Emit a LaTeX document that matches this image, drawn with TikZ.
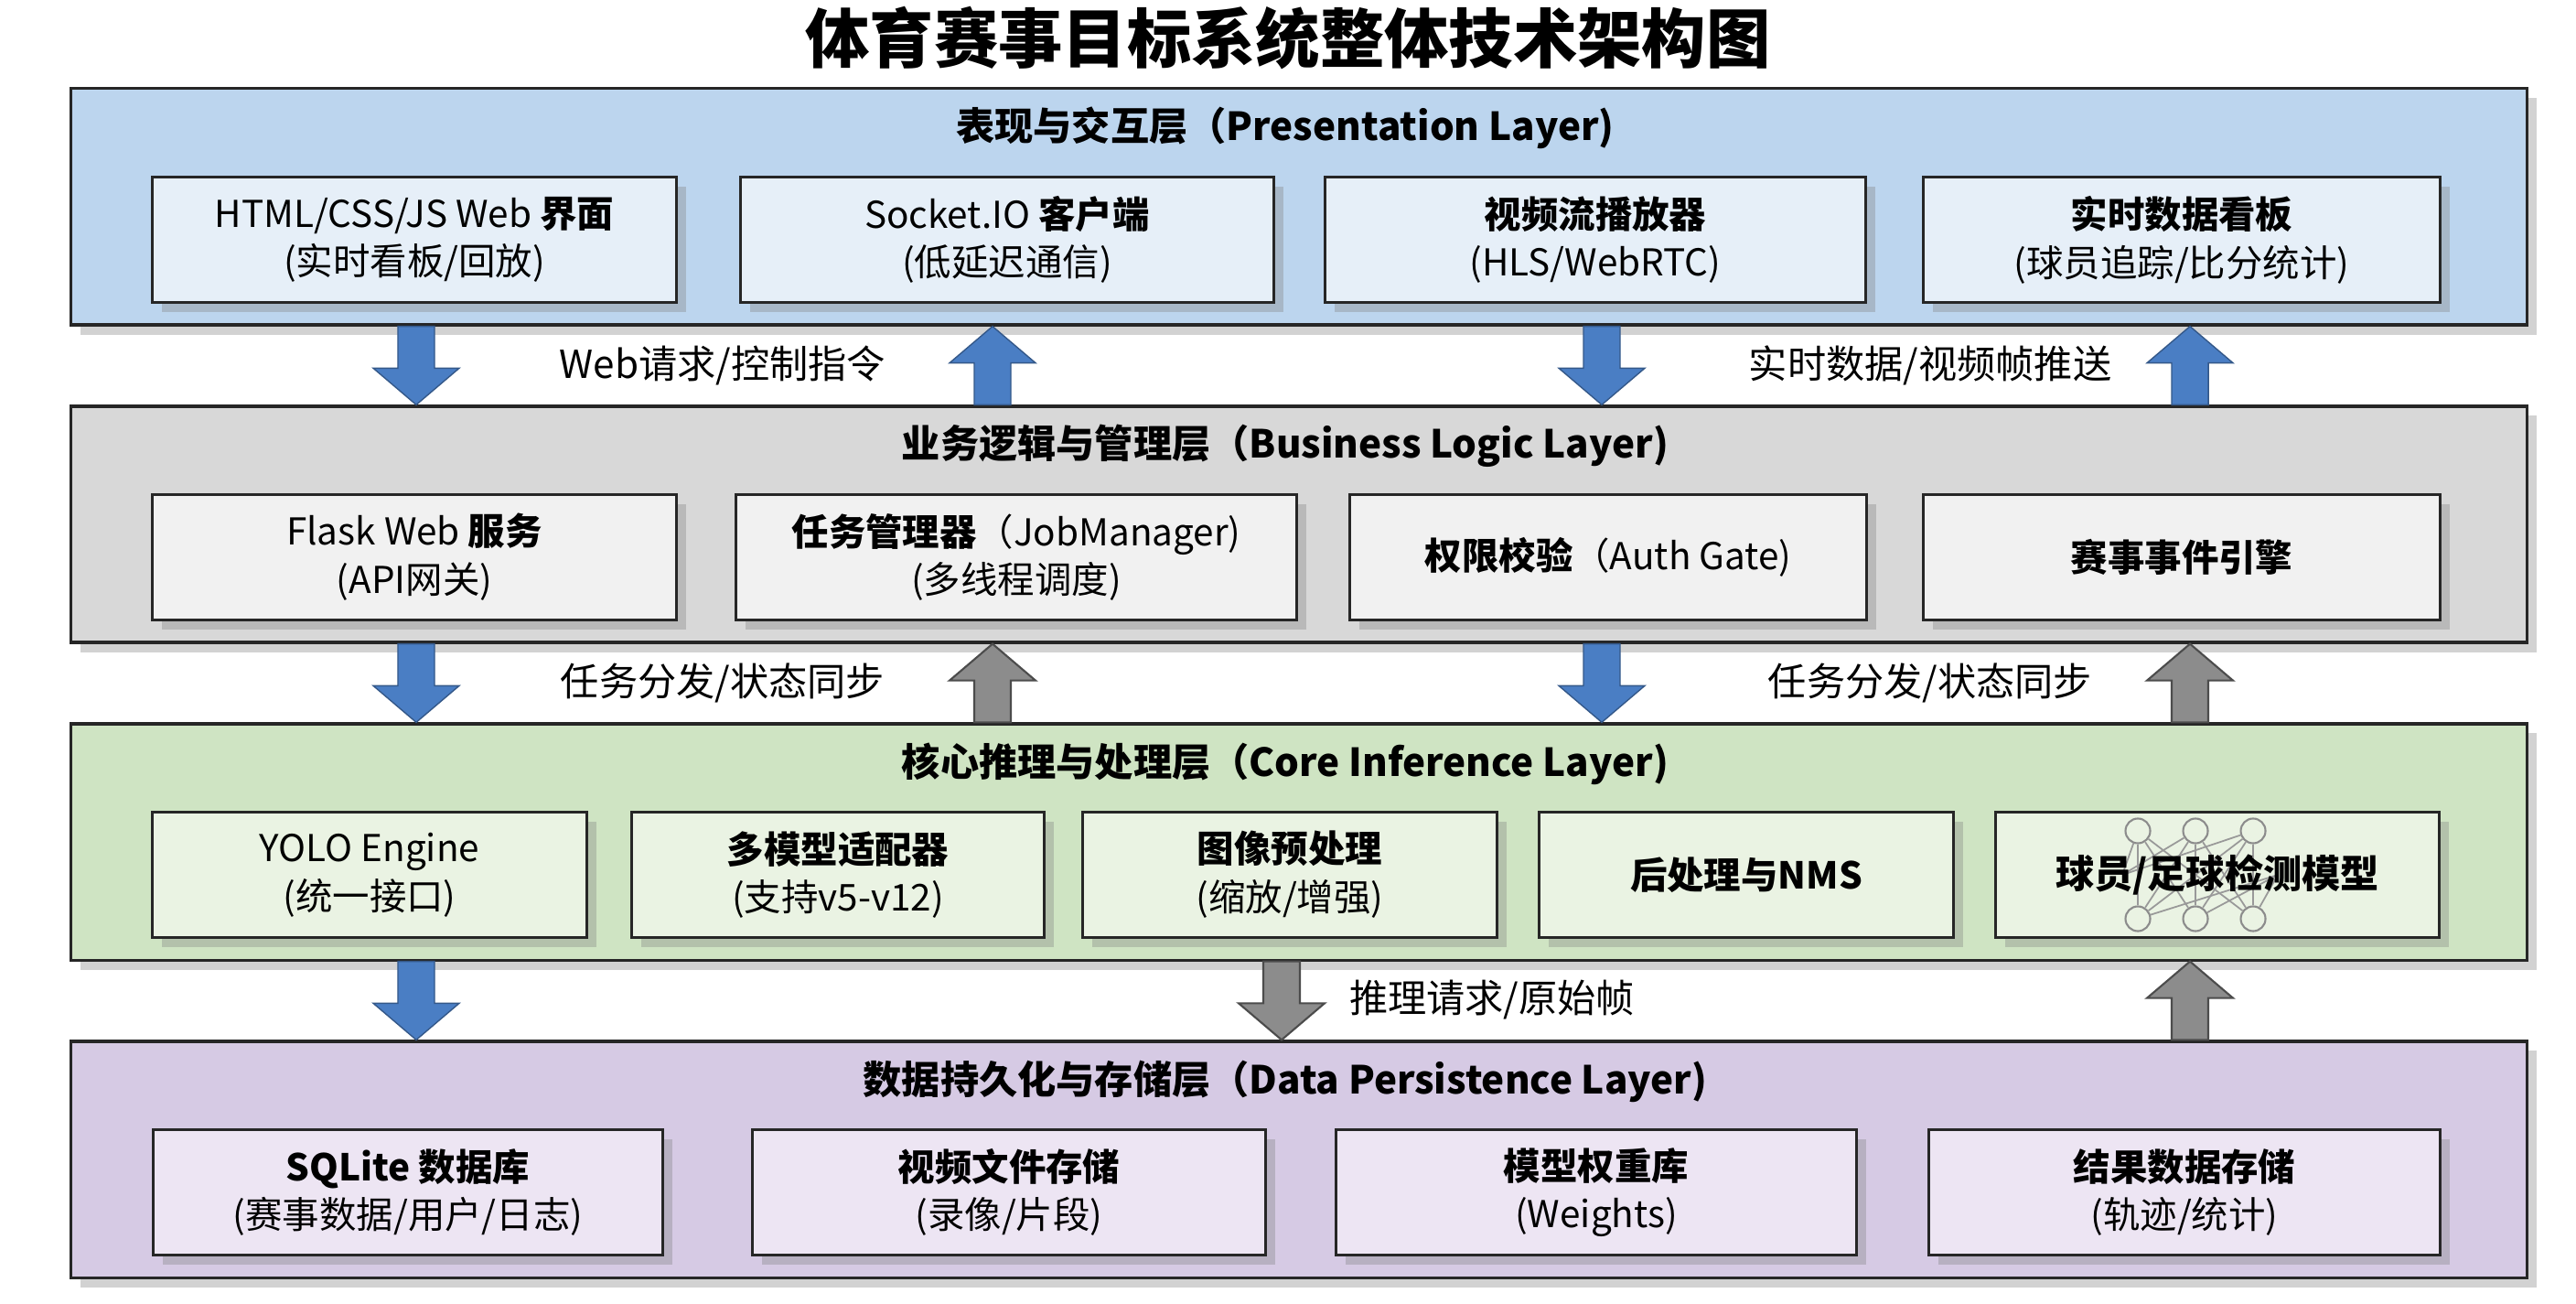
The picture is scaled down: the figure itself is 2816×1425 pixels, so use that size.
\documentclass[tikz,border=0pt]{standalone}
\usepackage{fontspec}
\setmainfont{Noto Sans CJK SC}
\usetikzlibrary{shadows,calc}

\definecolor{layblue}{HTML}{BCD5EE}
\definecolor{boxblue}{HTML}{E6EFF8}
\definecolor{laygray}{HTML}{D8D8D8}
\definecolor{boxgray}{HTML}{F1F1F1}
\definecolor{laygreen}{HTML}{CFE4C3}
\definecolor{boxgreen}{HTML}{EAF3E3}
\definecolor{laypurple}{HTML}{D6CAE4}
\definecolor{boxpurple}{HTML}{EDE5F3}
\definecolor{arrblue}{HTML}{4A7EC4}
\definecolor{arrgray}{HTML}{8C8C8C}

\tikzset{
  layer/.style={draw=black!85, line width=0.9pt, minimum width=26.83cm, minimum height=2.58cm,
    drop shadow={shadow xshift=3pt, shadow yshift=-3pt, opacity=.35}},
  laytitle/.style={font=\fontsize{12pt}{14pt}\selectfont\bfseries},
  box/.style={draw=black!85, line width=0.9pt, minimum width=#1, minimum height=1.37cm,
    align=center, font=\fontsize{11.5pt}{15pt}\selectfont,
    drop shadow={shadow xshift=3pt, shadow yshift=-3pt, opacity=.35}},
  flowlbl/.style={font=\fontsize{12pt}{14pt}\selectfont},
  blueflow/.style={fill=arrblue, draw=arrblue!70!black, line width=0.4pt},
  grayflow/.style={fill=arrgray, draw=black!70, line width=0.6pt},
  netdot/.style={draw=black!45, line width=0.6pt, circle, minimum size=0.27cm, inner sep=0pt}
}

% block arrows between layers
\newcommand\downflow[3]{\path[#1] let \p1=(#2), \p2=(#3) in
  (\x1-0.2cm,\y1) -- (\x1-0.2cm,\y2+0.4cm) -- (\x1-0.47cm,\y2+0.4cm) -- (\x1,\y2)
  -- (\x1+0.47cm,\y2+0.4cm) -- (\x1+0.2cm,\y2+0.4cm) -- (\x1+0.2cm,\y1) -- cycle;}
\newcommand\upflow[3]{\path[#1] let \p1=(#2), \p2=(#3) in
  (\x1-0.2cm,\y1) -- (\x1-0.2cm,\y2-0.4cm) -- (\x1-0.47cm,\y2-0.4cm) -- (\x1,\y2)
  -- (\x1+0.47cm,\y2-0.4cm) -- (\x1+0.2cm,\y2-0.4cm) -- (\x1+0.2cm,\y1) -- cycle;}

\begin{document}
\begin{tikzpicture}[x=0.01cm, y=-0.01cm]
    \useasboundingbox[fill=white] (0,0) rectangle (2816,1425);

    \node[font=\fontsize{20pt}{22pt}\selectfont\bfseries] (title) at (1408,42) {体育赛事目标系统整体技术架构图};

    % layers
    \node[layer, fill=layblue] (L1) at (1420,226) {};
    \node[layer, fill=laygray] (L2) at (1420,573) {};
    \node[layer, fill=laygreen] (L3) at (1420,920) {};
    \node[layer, fill=laypurple] (L4) at (1420,1267) {};

    \node[laytitle] (t1) at (1405,140) {表现与交互层（Presentation Layer)};
    \node[laytitle] (t2) at (1405,487) {业务逻辑与管理层（Business Logic Layer)};
    \node[laytitle] (t3) at (1405,835) {核心推理与处理层（Core Inference Layer)};
    \node[laytitle] (t4) at (1405,1182) {数据持久化与存储层（Data Persistence Layer)};

    % presentation
    \node[box=5.73cm, fill=boxblue] (p1) at (453,262) {HTML/CSS/JS Web \textbf{界面}\\(实时看板/回放)};
    \node[box=5.82cm, fill=boxblue] (p2) at (1101,262) {Socket.IO \textbf{客户端}\\(低延迟通信)};
    \node[box=5.91cm, fill=boxblue] (p3) at (1744,262) {\textbf{视频流播放器}\\(HLS/WebRTC)};
    \node[box=5.64cm, fill=boxblue] (p4) at (2385,262) {\textbf{实时数据看板}\\(球员追踪/比分统计)};

    % business
    \node[box=5.73cm, fill=boxgray] (b1) at (453,609) {Flask Web \textbf{服务}\\(API网关)};
    \node[box=6.12cm, fill=boxgray] (b2) at (1111,609) {\textbf{任务管理器}（JobManager)\\(多线程调度)};
    \node[box=5.64cm, fill=boxgray] (b3) at (1758,609) {\textbf{权限校验}（Auth Gate)};
    \node[box=5.64cm, fill=boxgray] (b4) at (2385,609) {\textbf{赛事事件引擎}};

    % core
    \node[box=4.74cm, fill=boxgreen] (c1) at (404,956) {YOLO Engine\\(统一接口)};
    \node[box=4.51cm, fill=boxgreen] (c2) at (916,956) {\textbf{多模型适配器}\\(支持v5-v12)};
    \node[box=4.52cm, fill=boxgreen] (c3) at (1410,956) {\textbf{图像预处理}\\(缩放/增强)};
    \node[box=4.52cm, fill=boxgreen] (c4) at (1909,956) {\textbf{后处理与NMS}};
    \node[box=4.85cm, fill=boxgreen] (c5) at (2424,956) {};

    % network icon behind the model label
    \foreach \i/\x in {1/2337,2/2400,3/2463}
    {\node[netdot] (nt\i) at (\x,908) {};
     \node[netdot] (nb\i) at (\x,1004) {};}
    \coordinate (nl) at (2320,956);
    \coordinate (nr) at (2490,956);
    \foreach \i in {1,2,3}
    {\foreach \j in {1,2,3}
     {\draw[black!40, line width=0.5pt] (nt\i) -- (nb\j);}
     \draw[black!40, line width=0.5pt] (nl) -- (nt\i);
     \draw[black!40, line width=0.5pt] (nr) -- (nb\i);}
    \node[font=\fontsize{12pt}{14pt}\selectfont\bfseries] (c5t) at (c5) {球员/足球检测模型};

    % storage
    \node[box=5.57cm, fill=boxpurple] (d1) at (446,1303) {\textbf{SQLite 数据库}\\(赛事数据/用户/日志)};
    \node[box=5.60cm, fill=boxpurple] (d2) at (1103,1303) {\textbf{视频文件存储}\\(录像/片段)};
    \node[box=5.69cm, fill=boxpurple] (d3) at (1745,1303) {\textbf{模型权重库}\\(Weights)};
    \node[box=5.59cm, fill=boxpurple] (d4) at (2388,1303) {\textbf{结果数据存储}\\(轨迹/统计)};

    % flows between layers
    \downflow{blueflow}{455,0 |- L1.south}{455,0 |- L2.north}
    \upflow{blueflow}{1085,0 |- L2.north}{1085,0 |- L1.south}
    \downflow{blueflow}{1751,0 |- L1.south}{1751,0 |- L2.north}
    \upflow{blueflow}{2394,0 |- L2.north}{2394,0 |- L1.south}
    \node[flowlbl] (f1) at (790,399) {Web请求/控制指令};
    \node[flowlbl] (f2) at (2110,399) {实时数据/视频帧推送};

    \downflow{blueflow}{455,0 |- L2.south}{455,0 |- L3.north}
    \upflow{grayflow}{1085,0 |- L3.north}{1085,0 |- L2.south}
    \downflow{blueflow}{1751,0 |- L2.south}{1751,0 |- L3.north}
    \upflow{grayflow}{2394,0 |- L3.north}{2394,0 |- L2.south}
    \node[flowlbl] (f3) at (790,746) {任务分发/状态同步};
    \node[flowlbl] (f4) at (2110,746) {任务分发/状态同步};

    \downflow{blueflow}{455,0 |- L3.south}{455,0 |- L4.north}
    \downflow{grayflow}{1401,0 |- L3.south}{1401,0 |- L4.north}
    \upflow{grayflow}{2394,0 |- L4.north}{2394,0 |- L3.south}
    \node[flowlbl] (f5) at (1631,1093) {推理请求/原始帧};
\end{tikzpicture}
\end{document}
